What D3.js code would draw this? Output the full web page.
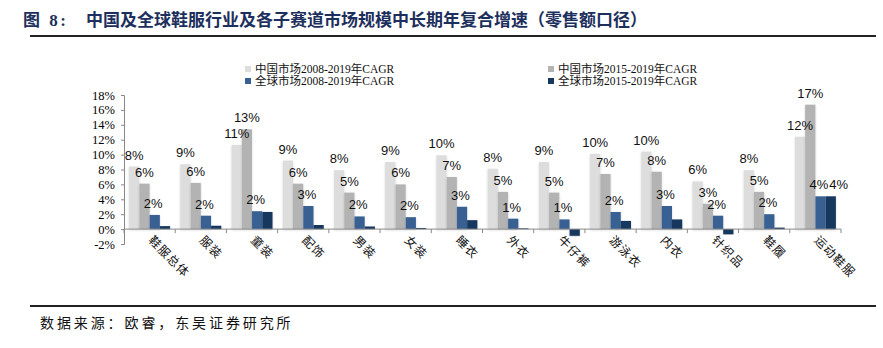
<!DOCTYPE html>
<html>
<head>
<meta charset="utf-8">
<script src="https://cdn.jsdelivr.net/npm/d3@7"></script>
<style>
  html, body { margin: 0; padding: 0; background: #fff; }
  svg { display: block; }
</style>
</head>
<body>
<div id="chart"></div>
<script>
// categories on the x axis
var categories = ["鞋服总体", "服装", "童装", "配饰", "男装", "女装", "睡衣", "外衣", "牛仔裤", "游泳衣", "内衣", "针织品", "鞋履", "运动鞋服"];

// CAGR values, in percent
var cn0819 = [8.4, 8.7, 11.3, 9.2, 7.9, 9.0, 9.9, 8.1, 9.0, 10.1, 10.4, 6.4, 7.9, 12.4];
var cn1519 = [6.1, 6.2, 13.4, 6.1, 4.9, 6.0, 7.0, 5.0, 4.9, 7.4, 7.7, 3.4, 5.0, 16.7];
var gl0819 = [1.9, 1.8, 2.4, 3.1, 1.7, 1.6, 3.0, 1.4, 1.3, 2.3, 3.1, 1.8, 2.0, 4.4];
var gl1519 = [0.4, 0.45, 2.3, 0.55, 0.35, 0.15, 1.2, 0.1, -0.9, 1.1, 1.3, -0.7, 0.2, 4.4];

var seriesNames = ["中国市场2008-2019年CAGR", "中国市场2015-2019年CAGR", "全球市场2008-2019年CAGR", "全球市场2015-2019年CAGR"];
var seriesColors = ["#dddddd", "#b3b3b3", "#386093", "#17375e"];
// the last series is only labelled on these categories
var darkLabelled = ["运动鞋服"];

var yTicks = [-2, 0, 2, 4, 6, 8, 10, 12, 14, 16, 18];

var W = 883, H = 348;
var svg = d3.select("#chart").append("svg")
    .attr("width", W)
    .attr("height", H);

svg.append("rect").attr("width", W).attr("height", H).attr("fill", "#fff");

var defs = svg.append("defs");
var f = defs.append("filter").attr("id", "barShadow")
    .attr("x", "-30%").attr("y", "-10%").attr("width", "160%").attr("height", "120%");
f.append("feDropShadow")
    .attr("dx", 0).attr("dy", 1)
    .attr("stdDeviation", 0.9)
    .attr("flood-color", "#000")
    .attr("flood-opacity", 0.18);

// title + rules
var title = svg.append("text")
    .attr("y", 26)
    .attr("fill", "#1d2f5c")
    .style("font-family", "'Liberation Serif', 'Noto Sans CJK SC', serif")
    .style("font-weight", "bold")
    .style("font-size", "17px");
title.append("tspan").attr("x", 23).style("letter-spacing", "2.5px").text("图 8:");
title.append("tspan").attr("x", 86).text("中国及全球鞋服行业及各子赛道市场规模中长期年复合增速（零售额口径）");

svg.append("line").attr("x1", 30).attr("x2", 876).attr("y1", 36).attr("y2", 36)
    .attr("stroke", "#222").attr("stroke-width", 2.2);
svg.append("line").attr("x1", 30).attr("x2", 876).attr("y1", 306).attr("y2", 306)
    .attr("stroke", "#222").attr("stroke-width", 2.2);

svg.append("text")
    .attr("x", 40).attr("y", 328)
    .attr("fill", "#111")
    .style("font-family", "'Noto Sans CJK SC', serif")
    .style("font-size", "14px")
    .style("letter-spacing", "2.9px")
    .text("数据来源：欧睿，东吴证券研究所");

// scales
var plot = { left: 124, right: 841, top: 95, bottom: 244 };

var y = d3.scaleLinear().domain([-2, 18]).range([plot.bottom, plot.top]);

var x0 = d3.scaleBand().domain(categories)
    .range([plot.left, plot.right])
    .paddingInner(0.2).paddingOuter(0.1);

var x1 = d3.scaleBand().domain(d3.range(4)).range([0, x0.bandwidth()]);

var data = [cn0819, cn1519, gl0819, gl1519];

// y axis
var yAxis = svg.append("g")
    .attr("transform", "translate(" + plot.left + ",0)")
    .call(d3.axisLeft(y).tickValues(yTicks).tickSize(3).tickPadding(6)
        .tickFormat(function (d) { return d + "%"; }));
yAxis.select(".domain").attr("stroke", "#888");
yAxis.selectAll(".tick line").attr("stroke", "#888");
yAxis.selectAll("text")
    .attr("fill", "#000")
    .style("font-family", "'Liberation Serif', 'Times New Roman', serif")
    .style("font-size", "12.5px");

// bars
var groups = svg.append("g").selectAll("g")
    .data(categories)
    .join("g")
    .attr("transform", function (d) { return "translate(" + x0(d) + ",0)"; });

groups.selectAll("rect")
    .data(function (c, i) {
        return data.map(function (s, k) { return { k: k, v: s[i], cat: c }; });
    })
    .join("rect")
    .attr("x", function (d) { return x1(d.k); })
    .attr("width", x1.bandwidth())
    .attr("y", function (d) { return y(Math.max(0, d.v)); })
    .attr("height", function (d) { return Math.abs(y(d.v) - y(0)); })
    .attr("fill", function (d) { return seriesColors[d.k]; })
    .attr("filter", "url(#barShadow)");

// x axis line with ticks between categories
var xAxisG = svg.append("g");
xAxisG.append("line")
    .attr("x1", plot.left).attr("x2", plot.right)
    .attr("y1", y(0)).attr("y2", y(0))
    .attr("stroke", "#888");
var step = x0.step();
xAxisG.selectAll("line.tk")
    .data(d3.range(categories.length + 1))
    .join("line")
    .attr("class", "tk")
    .attr("x1", function (i) { return plot.left + i * step; })
    .attr("x2", function (i) { return plot.left + i * step; })
    .attr("y1", y(0)).attr("y2", y(0) + 4)
    .attr("stroke", "#888");

// data labels (the dark series label is nudged right so it clears its neighbour)
groups.selectAll("text.lbl")
    .data(function (c, i) {
        return data.map(function (s, k) { return { k: k, v: s[i], cat: c }; })
            .filter(function (d) { return d.k < 3 || darkLabelled.indexOf(d.cat) >= 0; });
    })
    .join("text")
    .attr("class", "lbl")
    .attr("x", function (d) { return x1(d.k) + x1.bandwidth() / 2 + (d.k === 3 ? 8 : d.k === 2 ? -1.5 : 0); })
    .attr("y", function (d) { return y(Math.max(0, d.v)) - 7; })
    .attr("text-anchor", "middle")
    .attr("fill", "#111")
    .style("font-family", "'Liberation Sans', Arial, sans-serif")
    .style("font-size", "13px")
    .text(function (d) { return Math.round(d.v) + "%"; });

// rotated category labels
svg.append("g").selectAll("text")
    .data(categories)
    .join("text")
    .attr("transform", function (d) {
        return "translate(" + (x0(d) + x0.bandwidth() / 2 + 1) + "," + (y(0) + 9) + ") rotate(45)";
    })
    .attr("dy", "0.35em")
    .attr("fill", "#111")
    .style("font-family", "'Noto Sans CJK SC', sans-serif")
    .style("font-size", "12px")
    .style("letter-spacing", "1px")
    .text(function (d) { return d; });

// legend
var legendPos = [[245, 69], [548, 69], [245, 81], [548, 81]];
var lg = svg.append("g").selectAll("g")
    .data(seriesNames)
    .join("g")
    .attr("transform", function (d, i) { return "translate(" + legendPos[i][0] + "," + legendPos[i][1] + ")"; });
lg.append("rect")
    .attr("x", 0).attr("y", -3).attr("width", 6).attr("height", 6)
    .attr("fill", function (d, i) { return seriesColors[i]; });
lg.append("text")
    .attr("x", 10).attr("y", 4)
    .attr("fill", "#111")
    .style("font-family", "'Liberation Serif', 'Noto Sans CJK SC', serif")
    .style("font-size", "11.5px")
    .text(function (d) { return d; });
</script>
</body>
</html>
